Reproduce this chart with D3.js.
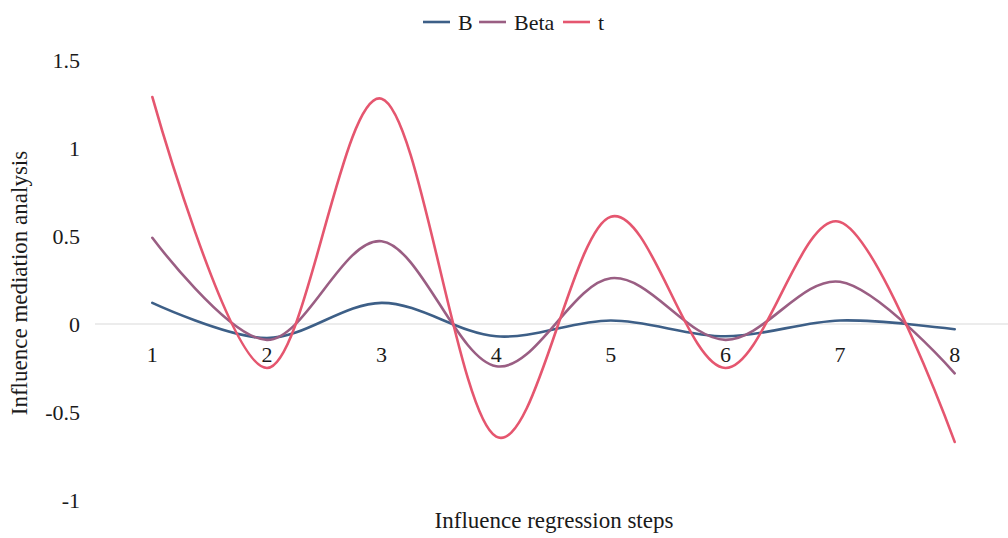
<!DOCTYPE html>
<html>
<head>
<meta charset="utf-8">
<script src="https://cdn.jsdelivr.net/npm/d3@7"></script>
<style>
  body { margin: 0; background: #fff; }
  svg text { font-family: "Liberation Serif", "DejaVu Serif", serif; }
</style>
</head>
<body>
<svg id="chart" width="1008" height="538"></svg>
<script>
// data
const steps = ['1', '2', '3', '4', '5', '6', '7', '8'];
const bValues = [0.12, -0.08, 0.12, -0.07, 0.02, -0.07, 0.02, -0.03];
const betaValues = [0.49, -0.09, 0.47, -0.24, 0.26, -0.09, 0.24, -0.28];
const tValues = [1.29, -0.25, 1.28, -0.64, 0.61, -0.25, 0.58, -0.67];
const yTicks = [-1, -0.5, 0, 0.5, 1, 1.5];

const series = [
  { name: 'B', values: bValues, color: '#3d5f87' },
  { name: 'Beta', values: betaValues, color: '#9a5e83' },
  { name: 't', values: tValues, color: '#e5566f' }
];

const svg = d3.select('#chart');
const width = 1008;
const textColor = '#1a1a1a';

const x = d3.scalePoint().domain(steps).range([95, 1012]).padding(0.5);
const y = d3.scaleLinear().domain([-1, 1.5]).range([500, 60]);

// y tick labels (no axis line, no gridlines)
svg.append('g')
  .selectAll('text')
  .data(yTicks)
  .join('text')
  .attr('x', 80)
  .attr('y', d => y(d))
  .attr('dy', '0.35em')
  .attr('text-anchor', 'end')
  .attr('font-size', 22)
  .attr('fill', textColor)
  .text(d => String(d));

// zero axis line
svg.append('line')
  .attr('x1', 95).attr('x2', width)
  .attr('y1', y(0)).attr('y2', y(0))
  .attr('stroke', '#d9d9d9')
  .attr('stroke-width', 1);

// category labels under the zero line
svg.append('g')
  .selectAll('text')
  .data(steps)
  .join('text')
  .attr('x', d => x(d))
  .attr('y', y(0) + 38)
  .attr('text-anchor', 'middle')
  .attr('font-size', 22)
  .attr('fill', textColor)
  .text(d => d);

const line = d3.line()
  .x((d, i) => x(steps[i]))
  .y(d => y(d))
  .curve(d3.curveCardinal.tension(0));

svg.append('g')
  .selectAll('path')
  .data(series)
  .join('path')
  .attr('d', d => line(d.values))
  .attr('fill', 'none')
  .attr('stroke', d => d.color)
  .attr('stroke-width', 2.6)
  .attr('stroke-linecap', 'round');

// axis titles
svg.append('text')
  .attr('x', 554)
  .attr('y', 528)
  .attr('text-anchor', 'middle')
  .attr('font-size', 23)
  .attr('fill', textColor)
  .text('Influence regression steps');

svg.append('text')
  .attr('transform', 'translate(27,283) rotate(-90)')
  .attr('text-anchor', 'middle')
  .attr('font-size', 23)
  .attr('fill', textColor)
  .text('Influence mediation analysis');

// legend
const legendX = [423, 479, 563];
const legend = svg.append('g')
  .selectAll('g')
  .data(series)
  .join('g')
  .attr('transform', (d, i) => `translate(${legendX[i]},22)`);

legend.append('line')
  .attr('x1', 0).attr('x2', 27)
  .attr('stroke', d => d.color)
  .attr('stroke-width', 2.6);

legend.append('text')
  .attr('x', 35)
  .attr('dy', '0.35em')
  .attr('font-size', 22)
  .attr('fill', textColor)
  .text(d => d.name);
</script>
</body>
</html>
